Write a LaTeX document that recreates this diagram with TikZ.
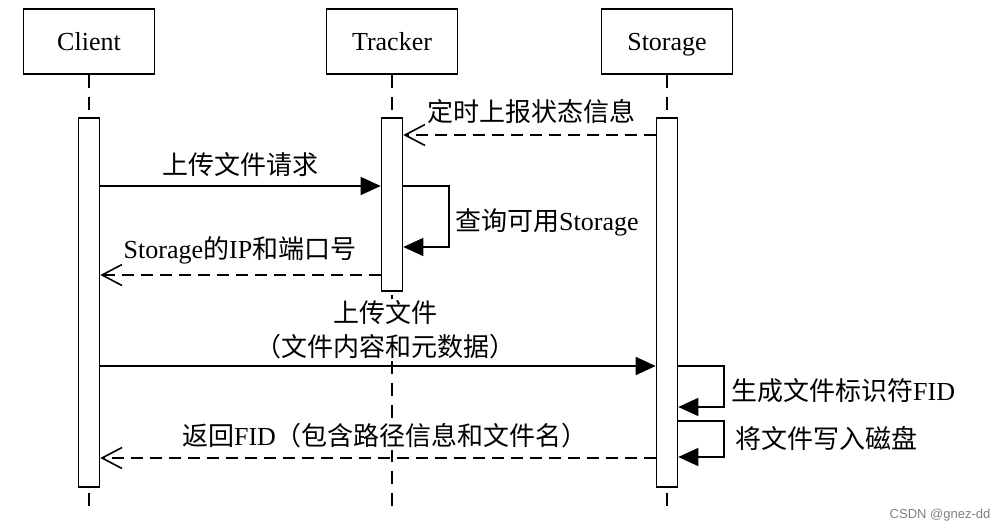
\documentclass[tikz,border=0pt]{standalone}
\usepackage{fontspec}
\setmainfont{Liberation Serif}
\newfontfamily\cjk{Noto Sans CJK SC}
\newfontfamily\wmfont{Liberation Sans}
\usetikzlibrary{arrows.meta}
\tikzset{
  actorbox/.style={draw, line width=1.8pt, minimum width=131pt, minimum height=65pt, inner sep=0pt, anchor=north, text height=22pt, text depth=3pt, font=\fontsize{26}{30}\selectfont},
  actbar/.style={draw, line width=1.6pt, fill=white, minimum width=21pt, inner sep=0pt, anchor=north},
  lifeline/.style={line width=1.6pt, dash pattern=on 13pt off 9pt},
  syncmsg/.style={line width=1.6pt, -{Triangle[length=20pt,width=18pt]}},
  replymsg/.style={line width=1.6pt, dash pattern=on 12pt off 7pt, -{Straight Barb[length=20pt,width=21pt]}},
  msglabel/.style={fill=white, inner sep=2pt, font=\fontsize{26}{34}\selectfont},
  watermark/.style={font=\wmfont\fontsize{13}{15}\selectfont, text=gray}
}
\begin{document}
\begin{tikzpicture}[x=1pt,y=-1pt]
\useasboundingbox (0,0) rectangle (1001,532);
% actors
\node[actorbox] (client) at (89,8) {Client};
\node[actorbox] (tracker) at (392,8) {Tracker};
\node[actorbox] (storage) at (667,8) {Storage};
% lifeline ends
\coordinate (cend) at (89,512);
\coordinate (tend) at (392,512);
\coordinate (send) at (667,512);
\draw[lifeline] (client.south) -- (cend);
\draw[lifeline] (tracker.south) -- (tend);
\draw[lifeline] (storage.south) -- (send);
% activations
\node[actbar, minimum height=369pt] (ca) at (89,117) {};
\node[actbar, minimum height=173pt] (ta) at (392,117) {};
\node[actbar, minimum height=369pt] (sa) at (667,117) {};
% messages
\draw[replymsg] (sa.west |- 0,135) -- (ta.east |- 0,135);
\draw[syncmsg] (ca.east |- 0,186) -- (ta.west |- 0,186);
\draw[syncmsg] (ta.east |- 0,186) -| (449,247) -- (ta.east |- 0,247);
\draw[replymsg] (ta.west |- 0,275) -- (ca.east |- 0,275);
\draw[syncmsg] (ca.east |- 0,366) -- (sa.west |- 0,366);
\draw[syncmsg] (sa.east |- 0,366) -| (724,407) -- (sa.east |- 0,407);
\draw[syncmsg] (sa.east |- 0,421) -| (724,457) -- (sa.east |- 0,457);
\draw[replymsg] (sa.west |- 0,458) -- (ca.east |- 0,458);
% labels
\node[msglabel] (l1) at (531,112) {{\cjk 定时上报状态信息}};
\node[msglabel] (l2) at (240,165) {{\cjk 上传文件请求}};
\node[msglabel, anchor=west] (l3) at (453,222) {{\cjk 查询可用}Storage};
\node[msglabel] (l4) at (240,250) {Storage{\cjk 的}IP{\cjk 和端口号}};
\node[msglabel, align=center] (l5) at (385,330) {{\cjk 上传文件}\\{\cjk （文件内容和元数据）}};
\node[msglabel] (l6) at (385,436) {{\cjk 返回}FID{\cjk （包含路径信息和文件名）}};
\node[msglabel, anchor=west] (l7) at (729,391) {{\cjk 生成文件标识符}FID};
\node[msglabel, anchor=west] (l8) at (733,438) {{\cjk 将文件写入磁盘}};
\node[watermark] (wm) at (940,515) {CSDN @gnez-dd};
\end{tikzpicture}
\end{document}
